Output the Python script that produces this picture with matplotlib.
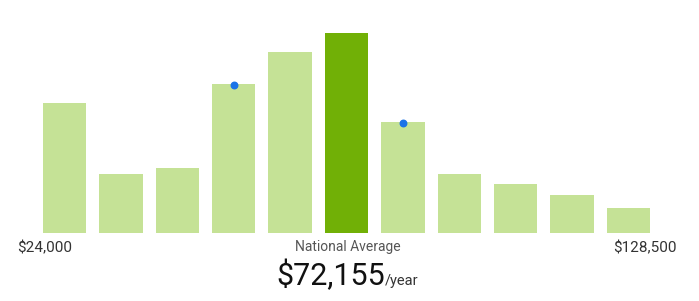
import matplotlib.pyplot as plt

# salary distribution bins (relative bar heights)
heights = [130, 59, 65, 149, 181, 200, 111, 59, 49, 38, 25]
highlight = 5  # national average bin
dot_bins = [3, 6]

min_label = "$24,000"
max_label = "$128,500"
avg_label = "$72,155"

light_green = "#c5e296"
dark_green = "#71b006"
dot_color = "#1a73e8"

plt.rcParams['font.family'] = ['Roboto', 'DejaVu Sans']

fig = plt.figure(figsize=(6.99, 3.01), dpi=100)
ax = fig.add_axes([0, 68 / 301, 1, 233 / 301])

x = list(range(len(heights)))
colors = [dark_green if i == highlight else light_green for i in x]
ax.bar(x, heights, width=0.77, color=colors)
ax.scatter(dot_bins, [heights[i] - 1 for i in dot_bins], s=22, color=dot_color, zorder=3)

pitch = 56.4
ax.set_xlim(-64.5 / pitch, (699 - 64.5) / pitch)
ax.set_ylim(0, 233)
ax.axis("off")

fig.text(17 / 699, 1 - 252 / 301, min_label, fontsize=11, color="#333333", ha="left", va="baseline")
fig.text(677 / 699, 1 - 252 / 301, max_label, fontsize=11, color="#333333", ha="right", va="baseline")
fig.text(348 / 699, 1 - 251 / 301, "National Average", fontsize=10, color="#555555", ha="center", va="baseline")
fig.text(385 / 699, 1 - 285 / 301, avg_label, fontsize=22, color="#111111", ha="right", va="baseline")
fig.text(385 / 699, 1 - 285 / 301, "/year", fontsize=10.5, color="#333333", ha="left", va="baseline")

fig.savefig("out.png", dpi=100)
